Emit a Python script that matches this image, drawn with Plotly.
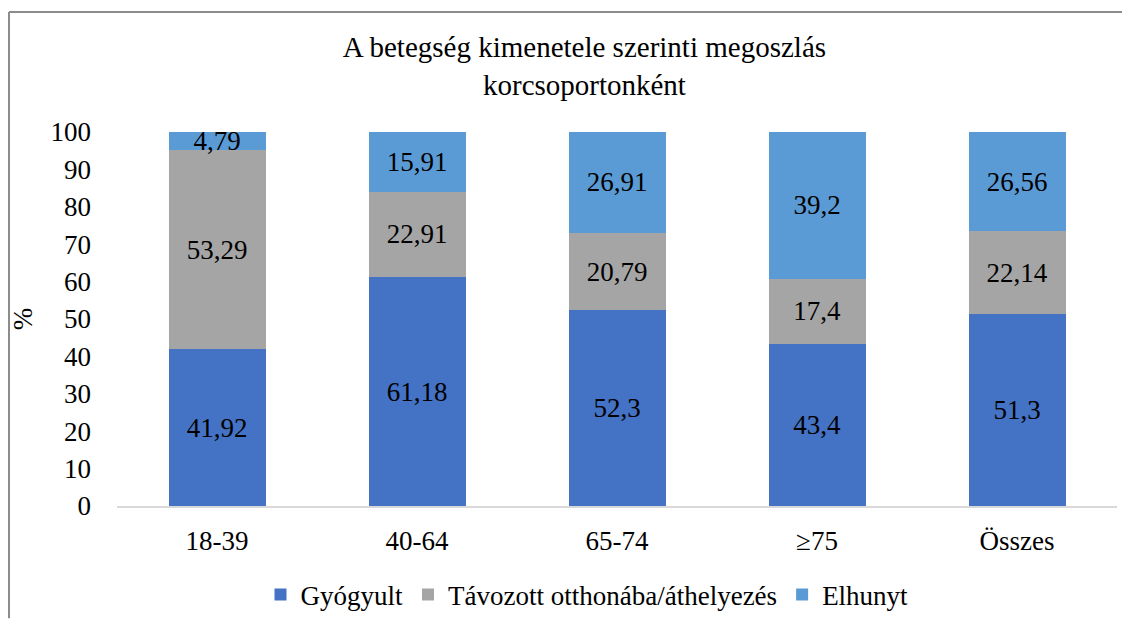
import plotly.graph_objects as go

# Korcsoportok és a kimenetel szerinti megoszlás (%)
korcsoportok = ['18-39', '40-64', '65-74', '≥75', 'Összes']
gyogyult = [41.92, 61.18, 52.3, 43.4, 51.3]
tavozott = [53.29, 22.91, 20.79, 17.4, 22.14]
elhunyt = [4.79, 15.91, 26.91, 39.2, 26.56]

sorozatok = [
    ('Gyógyult', gyogyult, '#4472C4'),
    ('Távozott otthonába/áthelyezés', tavozott, '#A5A5A5'),
    ('Elhunyt', elhunyt, '#5B9BD5'),
]

BETU = 'Liberation Serif, Times New Roman, serif'

fig = go.Figure()
for nev, ertekek, szin in sorozatok:
    fig.add_trace(go.Bar(
        x=korcsoportok,
        y=ertekek,
        name=nev,
        marker=dict(color=szin, line=dict(width=0)),
        text=[str(v).replace('.', ',') for v in ertekek],
        textposition='inside',
        insidetextanchor='middle',
        textangle=0,
        textfont=dict(family=BETU, size=27, color='black'),
    ))

# az oldal 8 px-es margója miatt a méret kisebb (ne legyen görgetősáv)
fig.update_layout(
    barmode='stack',
    bargap=0.515,
    width=1115,
    height=611,
    margin=dict(l=109, r=6, t=124, b=113, autoexpand=False),
    paper_bgcolor='white',
    plot_bgcolor='white',
    font=dict(family=BETU, size=27, color='black'),
    uniformtext=dict(minsize=27, mode='show'),
    title=dict(
        text='A betegség kimenetele szerinti megoszlás<br>korcsoportonként',
        x=0.517, xanchor='center', y=0.919, yanchor='top',
        font=dict(family=BETU, size=29, color='black'),
    ),
    legend=dict(
        orientation='h', x=0.47, xanchor='center', y=-0.238, yanchor='middle',
        font=dict(family=BETU, size=27, color='black'),
        itemwidth=30, traceorder='normal',
    ),
    showlegend=True,
)

fig.update_yaxes(
    range=[0, 100], dtick=10, showgrid=False, zeroline=False,
    showline=False, ticks='', ticklabelstandoff=25,
    title=dict(text='%', standoff=20, font=dict(family=BETU, size=27)),
    tickfont=dict(family=BETU, size=27),
)
fig.update_xaxes(
    showgrid=False, showline=True, linecolor='#D9D9D9', linewidth=1.5,
    ticks='', ticklabelstandoff=10,
    tickfont=dict(family=BETU, size=27),
)

# keret a diagram körül: csak a bal és a felső éle látszik,
# a vonalak a figurán belül maradnak (különben görgetősáv jelenik meg)
keret = dict(color='#8C8C8C', width=2)
fig.add_shape(type='line', xref='paper', yref='paper',
              x0=-0.108, x1=1.005, y0=1.321, y1=1.321, line=keret)
fig.add_shape(type='line', xref='paper', yref='paper',
              x0=-0.108, x1=-0.108, y0=-0.3, y1=1.321, line=keret)

fig.write_html('out.html')
